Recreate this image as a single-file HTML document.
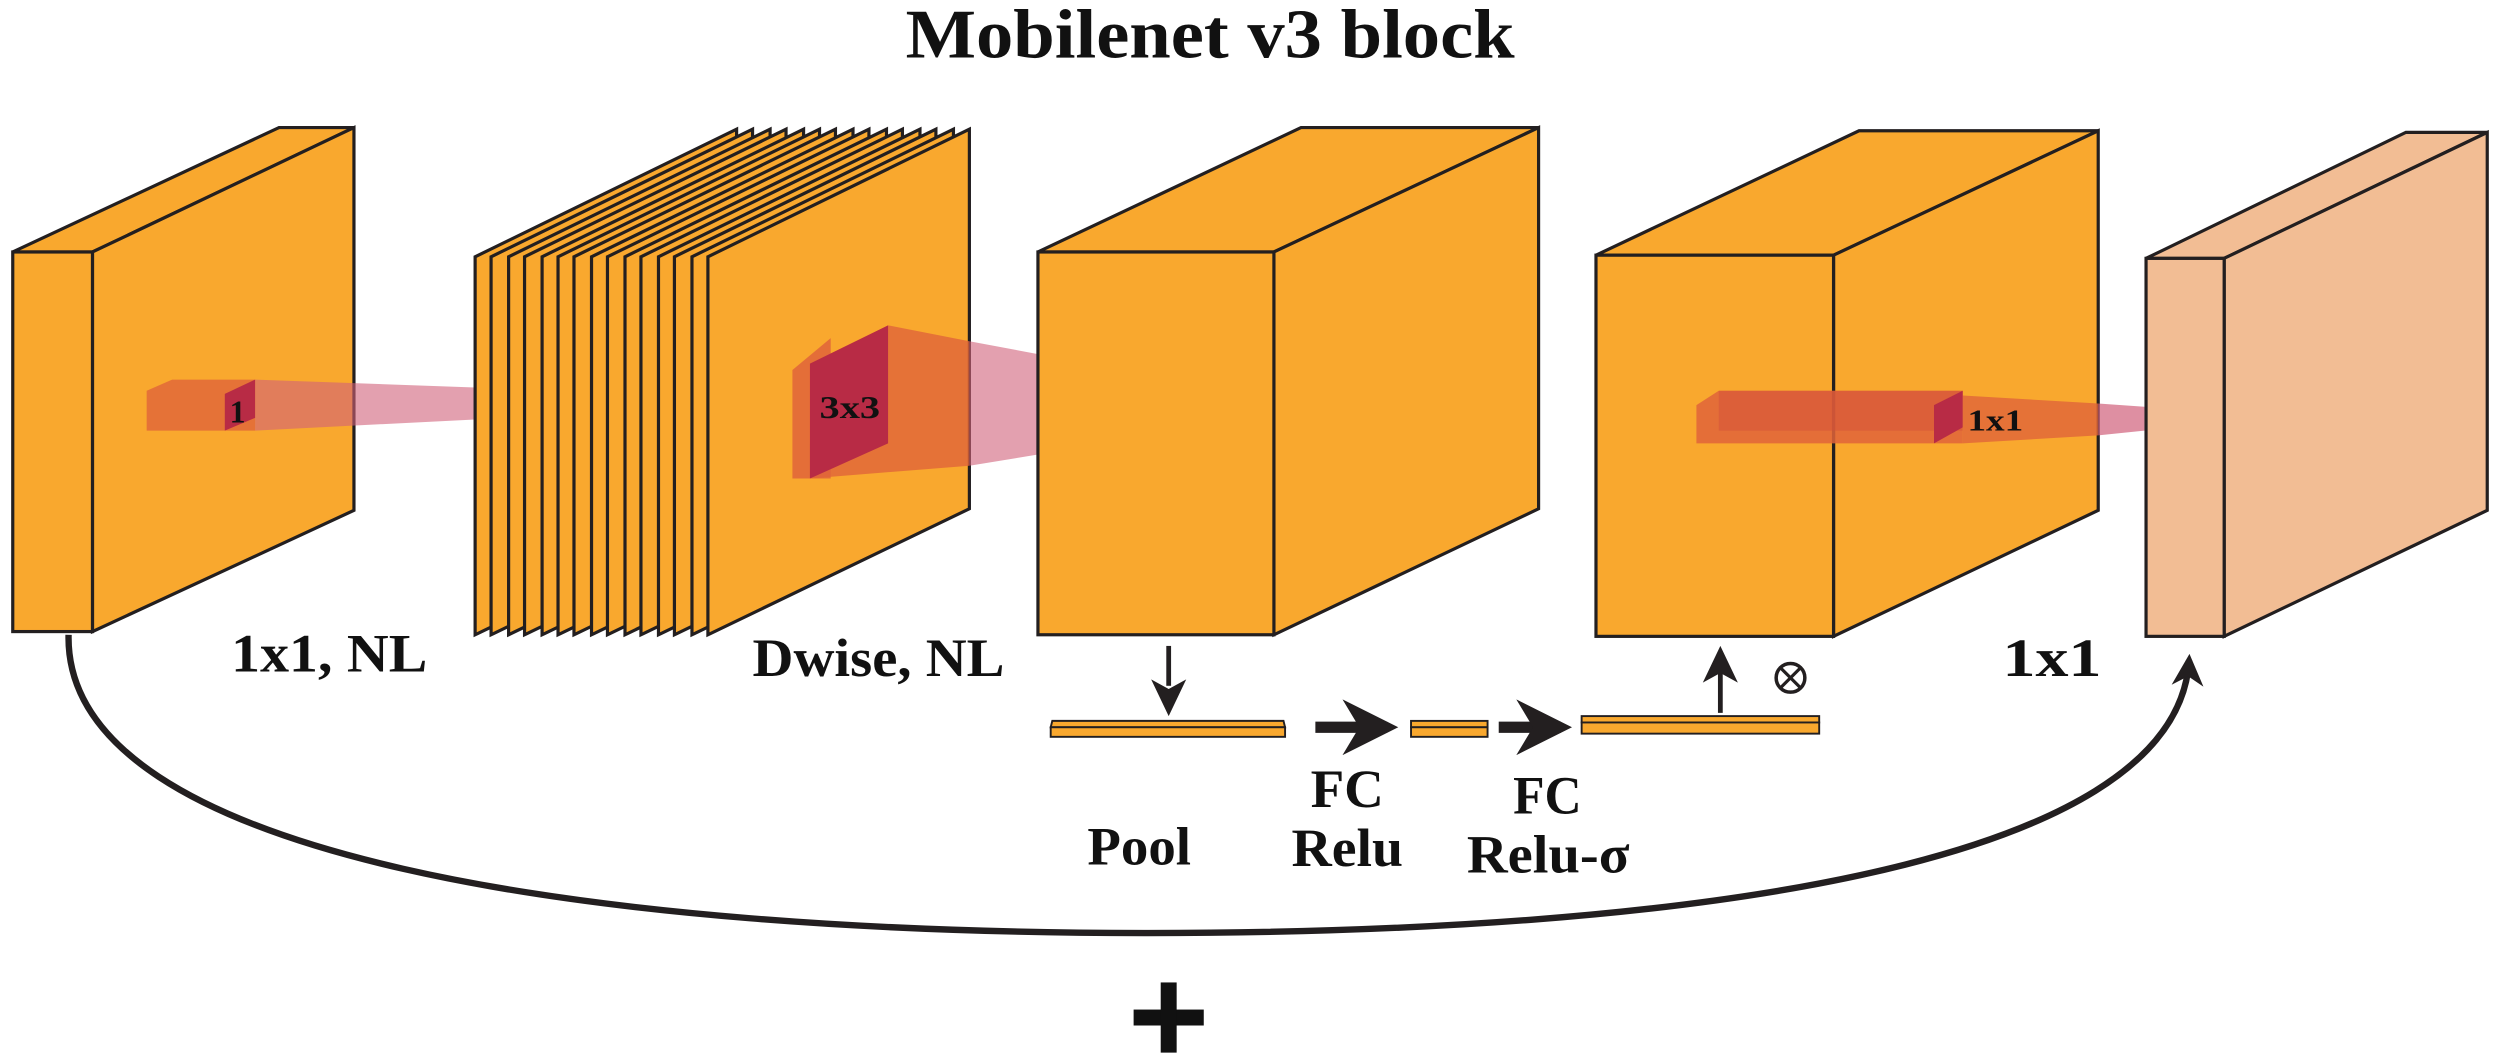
<!DOCTYPE html>
<html><head><meta charset="utf-8"><style>
html,body{margin:0;padding:0;background:#fff;}
svg{display:block;}
text{font-family:"Liberation Serif",serif;font-weight:bold;fill:#111;}
</style></head><body>
<svg width="2500" height="1059" viewBox="0 0 1568 664" preserveAspectRatio="none" xmlns="http://www.w3.org/2000/svg">
<defs>
<marker id="ah" viewBox="0 0 10 10" refX="8" refY="5" markerWidth="5" markerHeight="5" orient="auto"><path d="M0,0 L10,5 L0,10 L3,5 z" fill="#231f20"/></marker>
</defs>
<text x="568" y="36" font-size="44" textLength="382" lengthAdjust="spacingAndGlyphs">Mobilenet v3 block</text>
<g stroke="#231f20" stroke-width="2" stroke-linejoin="miter">
<polygon points="8,158 175,80 222,80 58,158" fill="#f9a82e"/>
<polygon points="58,158 222,80 222,320 58,396" fill="#f9a82e"/>
<rect x="8" y="158" width="50" height="238" fill="#f9a82e"/>
</g>
<polygon points="92,245 108,238 160,238 160,270 92,270" fill="#e0643a" opacity="0.8"/>
<polygon points="160,238 298,243 298,263 160,270" fill="#d0607a" opacity="0.6"/>
<polygon points="141,247 160,238 160,262 141,270" fill="#b82b45"/>
<text x="149" y="265" font-size="20" text-anchor="middle">1</text>
<g stroke="#231f20" stroke-width="2" fill="#f9a82e">
<polygon points="298,161 462,81 462,319 298,398"/>
<polygon points="308,161 472,81 472,319 308,398"/>
<polygon points="319,161 483,81 483,319 319,398"/>
<polygon points="329,161 493,81 493,319 329,398"/>
<polygon points="340,161 504,81 504,319 340,398"/>
<polygon points="350,161 514,81 514,319 350,398"/>
<polygon points="360,161 524,81 524,319 360,398"/>
<polygon points="371,161 535,81 535,319 371,398"/>
<polygon points="381,161 545,81 545,319 381,398"/>
<polygon points="392,161 556,81 556,319 392,398"/>
<polygon points="402,161 566,81 566,319 402,398"/>
<polygon points="413,161 577,81 577,319 413,398"/>
<polygon points="423,161 587,81 587,319 423,398"/>
<polygon points="434,161 598,81 598,319 434,398"/>
<polygon points="444,161 608,81 608,319 444,398"/>
</g>
<polygon points="497,232 521,212 521,300 497,300" fill="#e0643a" opacity="0.85"/>
<polygon points="508,228 557,204 608,214 608,292 508,300" fill="#e0643a" opacity="0.8"/>
<polygon points="608,214 651,222 651,285 608,292" fill="#d0607a" opacity="0.6"/>
<polygon points="508,228 557,204 557,278 508,300" fill="#b82b45"/>
<text x="533" y="262" font-size="20" text-anchor="middle" textLength="38" lengthAdjust="spacingAndGlyphs">3x3</text>
<g stroke="#231f20" stroke-width="2" fill="#f9a82e">
<polygon points="651,158 816,80 965,80 799,158"/>
<polygon points="799,158 965,80 965,319 799,398"/>
<rect x="651" y="158" width="148" height="240"/>
</g>
<g stroke="#231f20" stroke-width="2" fill="#f9a82e">
<polygon points="1001,160 1166,82 1316,82 1150,160"/>
<polygon points="1150,160 1316,82 1316,320 1150,399"/>
<rect x="1001" y="160" width="149" height="239"/>
</g>
<polygon points="1064,254 1078,245 1231,245 1231,278 1064,278" fill="#e0643a" opacity="0.85"/>
<polygon points="1078,245 1231,245 1231,270 1078,270" fill="#d4503a" opacity="0.5"/>
<polygon points="1231,248 1316,253 1316,273 1231,278" fill="#e0643a" opacity="0.8"/>
<polygon points="1316,253 1345,255 1345,270 1316,273" fill="#d0607a" opacity="0.7"/>
<polygon points="1213,254 1231,245 1231,268 1213,278" fill="#b82b45"/>
<text x="1234" y="270" font-size="19" textLength="35" lengthAdjust="spacingAndGlyphs">1x1</text>
<g stroke="#231f20" stroke-width="2" fill="#f2bd94">
<polygon points="1346,162 1509,83 1560,83 1395,162"/>
<polygon points="1395,162 1560,83 1560,320 1395,399"/>
<rect x="1346" y="162" width="49" height="237"/>
</g>
<g stroke="#231f20" stroke-width="1.2" fill="#f9a82e">
<polygon points="660,452 805,452 806,456 659,456"/>
<rect x="659" y="456" width="147" height="6"/>
<rect x="885" y="452" width="48" height="4"/>
<rect x="885" y="456" width="48" height="6"/>
<rect x="992" y="449" width="149" height="4"/>
<rect x="992" y="453" width="149" height="7"/>
</g>
<g stroke="#231f20" stroke-width="3" fill="none">
<line x1="733" y1="405" x2="733" y2="430"/>
<line x1="825" y1="456" x2="870" y2="456" stroke-width="7" marker-end="url(#ah)"/>
<line x1="940" y1="456" x2="979" y2="456" stroke-width="7" marker-end="url(#ah)"/>
<line x1="1079" y1="447" x2="1079" y2="420"/>
<path d="M43,398 C40,540 380,585 720,585 C1050,585 1365,545 1373,414" stroke-width="4" marker-end="url(#ah)"/>
</g>
<path d="M733,449 L722,426 L733,432 L744,426 Z" fill="#231f20"/>
<path d="M1079,405 L1068,428 L1079,422 L1090,428 Z" fill="#231f20"/>
<circle cx="1123" cy="425" r="9" fill="none" stroke="#231f20" stroke-width="2.2"/>
<line x1="1117" y1="419" x2="1129" y2="431" stroke="#231f20" stroke-width="2"/>
<line x1="1129" y1="419" x2="1117" y2="431" stroke="#231f20" stroke-width="2"/>
<g font-size="34">
<text x="145" y="421" textLength="123" lengthAdjust="spacingAndGlyphs">1x1, NL</text>
<text x="472" y="424" textLength="158" lengthAdjust="spacingAndGlyphs">Dwise, NL</text>
<text x="1256" y="424" textLength="62" lengthAdjust="spacingAndGlyphs">1x1</text>
<text x="682" y="542" textLength="65" lengthAdjust="spacingAndGlyphs">Pool</text>
<text x="822" y="506" textLength="46" lengthAdjust="spacingAndGlyphs">FC</text>
<text x="810" y="543" textLength="70" lengthAdjust="spacingAndGlyphs">Relu</text>
<text x="949" y="510" textLength="43" lengthAdjust="spacingAndGlyphs">FC</text>
<text x="920" y="547" textLength="102" lengthAdjust="spacingAndGlyphs">Relu-σ</text>
</g>
<rect x="711" y="633" width="44" height="10" fill="#111"/>
<rect x="728" y="616" width="10" height="44" fill="#111"/>
</svg>
</body></html>
